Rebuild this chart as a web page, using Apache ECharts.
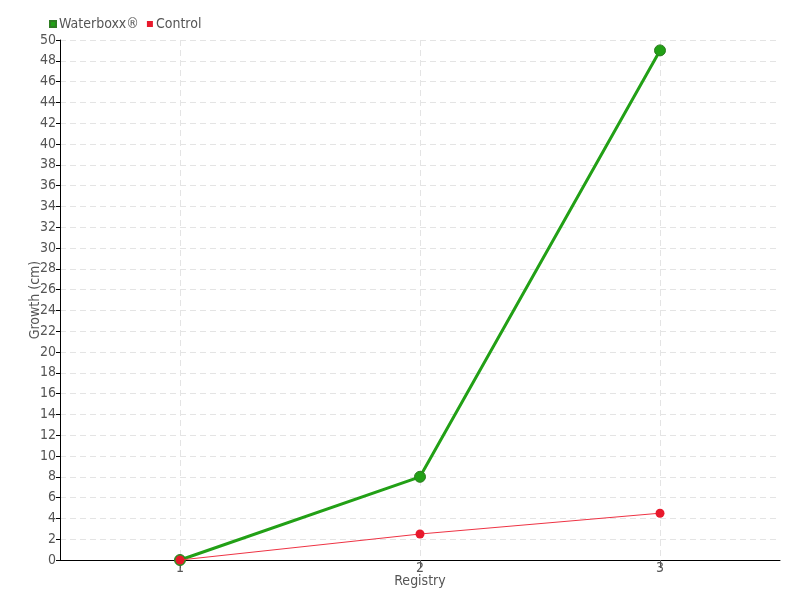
<!DOCTYPE html>
<html><head><meta charset="utf-8">
<script src="https://cdn.jsdelivr.net/npm/echarts@6/dist/echarts.min.js"></script>
<style>html,body{margin:0;padding:0;background:#fff}#c{width:800px;height:600px}</style>
</head><body><div id="c"></div>
<script>
const registries = [1, 2, 3];
const waterboxx = [0, 8, 49];
const control = [0, 2.5, 4.5];
const xTicks = [1, 2, 3];

const font = '"DejaVu Sans Condensed", "DejaVu Sans", sans-serif';
const chart = echarts.init(document.getElementById('c'));
chart.setOption({
  animation: false,
  textStyle: {fontFamily: font},
  legend: {
    left: 44, top: 12, itemWidth: 6, itemHeight: 6, itemGap: 8,
    icon: 'rect',
    textStyle: {color: '#555', fontSize: 14, fontFamily: font, padding: [0, 0, 0, -2]},
    data: ['Waterboxx®', 'Control']
  },
  grid: {left: 60, right: 20, top: 40, bottom: 40},
  xAxis: {
    type: 'value', min: 0.5, max: 3.5,
    name: 'Registry', nameLocation: 'middle', nameGap: 14, nameMoveOverlap: false,
    nameTextStyle: {color: '#555', fontSize: 14, fontFamily: font},
    axisLine: {lineStyle: {color: '#000', width: 1}},
    axisTick: {show: true, length: 8, customValues: xTicks, lineStyle: {color: '#555'}},
    axisLabel: {customValues: xTicks, color: '#555', fontSize: 14, fontFamily: font, margin: 1},
    splitLine: {show: true, lineStyle: {type: [6, 4], color: '#e4e4e4'}}
  },
  yAxis: {
    type: 'value', min: 0, max: 50, interval: 2,
    name: 'Growth (cm)', nameLocation: 'middle', nameGap: 18, nameMoveOverlap: false,
    nameTextStyle: {color: '#555', fontSize: 14, fontFamily: font},
    axisLine: {show: true, lineStyle: {color: '#000', width: 1}},
    axisTick: {show: true, length: 4, lineStyle: {color: '#000'}},
    axisLabel: {color: '#555', fontSize: 14, fontFamily: font, margin: 4},
    splitLine: {show: true, lineStyle: {type: [6, 4], color: '#e4e4e4'}}
  },
  series: [
    {
      name: 'Waterboxx®', type: 'line',
      data: registries.map((r, i) => [r, waterboxx[i]]),
      color: '#22a016',
      lineStyle: {width: 3, color: '#22a016'},
      symbol: 'circle', symbolSize: 11,
      itemStyle: {color: '#22a016', borderColor: '#2e7d22', borderWidth: 1},
      z: 2
    },
    {
      name: 'Control', type: 'line',
      data: registries.map((r, i) => [r, control[i]]),
      color: '#e8192c',
      lineStyle: {width: 1, color: '#ee3344'},
      symbol: 'circle', symbolSize: 9,
      itemStyle: {color: '#e8192c'},
      z: 3
    }
  ]
});
</script></body></html>
